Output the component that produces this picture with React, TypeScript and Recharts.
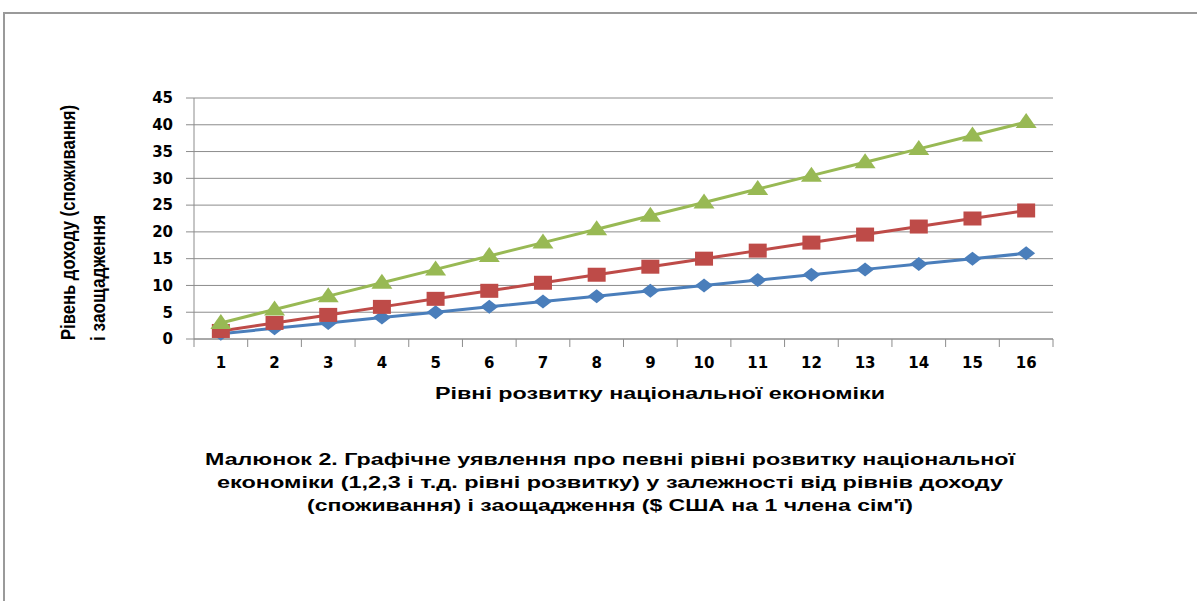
import { LineChart, Line, XAxis, YAxis, CartesianGrid } from "recharts";

const levels = [1, 2, 3, 4, 5, 6, 7, 8, 9, 10, 11, 12, 13, 14, 15, 16];
const seriesLow = [1, 2, 3, 4, 5, 6, 7, 8, 9, 10, 11, 12, 13, 14, 15, 16];
const seriesMid = [1.5, 3, 4.5, 6, 7.5, 9, 10.5, 12, 13.5, 15, 16.5, 18, 19.5, 21, 22.5, 24];
const seriesHigh = [3, 5.5, 8, 10.5, 13, 15.5, 18, 20.5, 23, 25.5, 28, 30.5, 33, 35.5, 38, 40.5];
const yTicks = [0, 5, 10, 15, 20, 25, 30, 35, 40, 45];

const xTitle = "Рівні розвитку національної економіки";
const yTitle = ["Рівень доходу (споживання)", "і заощадження"];
const caption = [
  "Малюнок 2. Графічне уявлення про певні рівні розвитку національної",
  "економіки (1,2,3 і т.д. рівні розвитку) у залежності від рівнів доходу",
  "(споживання) і заощадження ($ США на 1 члена сім'ї)",
];

const data = levels.map((level, i) => ({
  level,
  low: seriesLow[i],
  mid: seriesMid[i],
  high: seriesHigh[i],
}));

// category boundaries (for tick marks) plus category centres (for labels)
const xTicks = [...levels.map((l) => l - 0.5), levels[levels.length - 1] + 0.5, ...levels].sort(
  (a, b) => a - b
);

const BLUE = "#4A7EBB";
const RED = "#BE4B48";
const GREEN = "#98B954";
const GRID = "#8c8c8c";
const textFont = "'Liberation Sans', Arial, sans-serif";
const tickFont = "'DejaVu Sans', Verdana, sans-serif";

function LevelTick({ x, y, payload }: any) {
  const v = payload.value;
  if (!Number.isInteger(v)) {
    return <line x1={x} x2={x} y1={y} y2={y + 8} stroke={GRID} strokeWidth={1} />;
  }
  return (
    <text x={x} y={y + 29} textAnchor="middle" fontSize={15} fontWeight={700} fontFamily={tickFont} fill="#000">
      {v}
    </text>
  );
}

function Diamond({ cx, cy, index }: any) {
  if (cx == null || cy == null) return <g key={index} />;
  return (
    <path key={index} d={`M${cx},${cy - 7} L${cx + 9},${cy} L${cx},${cy + 7} L${cx - 9},${cy} Z`} fill={BLUE} />
  );
}

function Square({ cx, cy, index }: any) {
  if (cx == null || cy == null) return <g key={index} />;
  return <rect key={index} x={cx - 9} y={cy - 7} width={18} height={14} fill={RED} />;
}

function Triangle({ cx, cy, index }: any) {
  if (cx == null || cy == null) return <g key={index} />;
  return (
    <path key={index} d={`M${cx},${cy - 9} L${cx + 10.5},${cy + 6} L${cx - 10.5},${cy + 6} Z`} fill={GREEN} />
  );
}

export default function App() {
  return (
    <div style={{ position: "absolute", left: 0, top: 0, width: 1197, height: 601, background: "#fff", overflow: "hidden" }}>
      <LineChart
        width={1197}
        height={601}
        data={data}
        margin={{ top: 98, right: 144, bottom: 232, left: 134 }}
      >
        <CartesianGrid vertical={false} stroke={GRID} strokeWidth={1} />
        <XAxis
          dataKey="level"
          type="number"
          domain={[0.5, 16.5]}
          ticks={xTicks}
          interval={0}
          tickSize={0}
          tickMargin={0}
          tickLine={false}
          axisLine={{ stroke: GRID }}
          tick={<LevelTick />}
          height={30}
        />
        <YAxis
          domain={[0, 45]}
          ticks={yTicks}
          interval={0}
          width={60}
          tickSize={8}
          tickMargin={13}
          tickLine={{ stroke: GRID }}
          axisLine={{ stroke: GRID }}
          tick={{ fontSize: 15, fontWeight: 700, fill: "#000", fontFamily: tickFont }}
        />
        <Line dataKey="low" stroke={BLUE} strokeWidth={3} dot={<Diamond />} isAnimationActive={false} />
        <Line dataKey="mid" stroke={RED} strokeWidth={3} dot={<Square />} isAnimationActive={false} />
        <Line dataKey="high" stroke={GREEN} strokeWidth={3} dot={<Triangle />} isAnimationActive={false} />
      </LineChart>
      <svg
        width={1197}
        height={601}
        style={{ position: "absolute", left: 0, top: 0, pointerEvents: "none" }}
      >
        <rect x={4} y={13} width={1300} height={700} fill="none" stroke="#9a9a9a" strokeWidth={2} />
        <text
          x={660}
          y={399}
          textAnchor="middle"
          fontSize={16}
          fontWeight={700}
          fontFamily={textFont}
          textLength={450}
          lengthAdjust="spacingAndGlyphs"
        >
          {xTitle}
        </text>
        <text
          x={75}
          y={340}
          transform="rotate(-90 75 340)"
          fontSize={20}
          fontWeight={700}
          fontFamily={textFont}
          textLength={235}
          lengthAdjust="spacingAndGlyphs"
        >
          {yTitle[0]}
        </text>
        <text
          x={105}
          y={341}
          transform="rotate(-90 105 341)"
          fontSize={20}
          fontWeight={700}
          fontFamily={textFont}
          textLength={126}
          lengthAdjust="spacingAndGlyphs"
        >
          {yTitle[1]}
        </text>
        {caption.map((line, i) => (
          <text
            key={i}
            x={610}
            y={465 + i * 23}
            textAnchor="middle"
            fontSize={17}
            fontWeight={700}
            fontFamily={textFont}
            textLength={[810, 786, 606][i]}
            lengthAdjust="spacingAndGlyphs"
          >
            {line}
          </text>
        ))}
      </svg>
    </div>
  );
}
